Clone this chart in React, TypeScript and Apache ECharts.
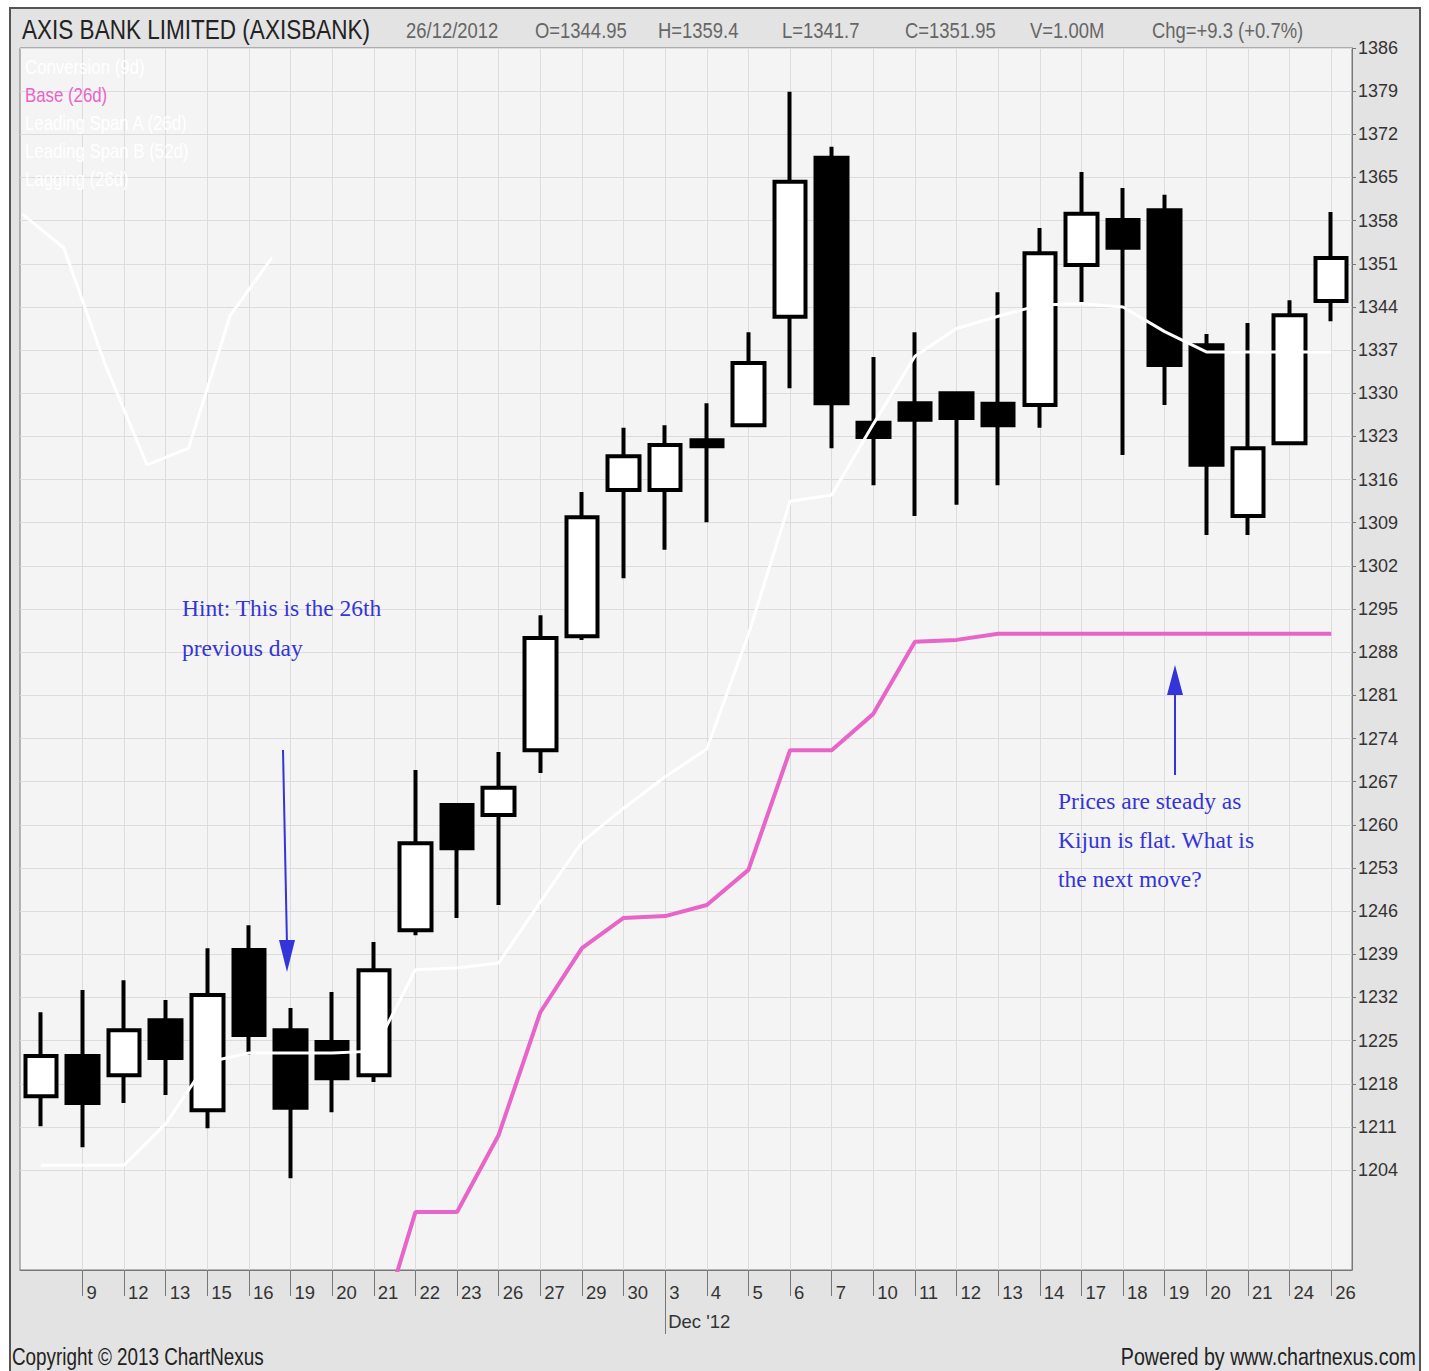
import React, { useEffect, useRef } from 'react';
import * as echarts from 'echarts';

// ---- Data ----
const dates = ['8', '9', '12', '13', '15', '16', '19', '20', '21', '22', '23', '26', '27', '29', '30',
  '3', '4', '5', '6', '7', '10', '11', '12', '13', '14', '17', '18', '19', '20', '21', '24', '26'];

const openPrices = [1216.0, 1222.5, 1219.4, 1228.3, 1213.7, 1239.7, 1226.7, 1224.8, 1219.4, 1242.9,
  1263.2, 1261.6, 1272.1, 1290.6, 1314.3, 1314.3, 1322.4, 1324.8, 1342.4, 1368.2,
  1325.2, 1328.4, 1330.0, 1328.3, 1328.1, 1350.8, 1358.1, 1359.7, 1337.8, 1310.1, 1321.9, 1344.95];
const closePrices = [1222.5, 1214.9, 1226.7, 1222.2, 1232.4, 1225.9, 1214.1, 1218.9, 1236.4, 1257.0,
  1256.2, 1266.0, 1290.3, 1309.9, 1319.8, 1321.6, 1321.4, 1334.9, 1364.3, 1328.4,
  1322.9, 1325.7, 1326.0, 1324.8, 1352.7, 1359.1, 1353.6, 1334.6, 1318.4, 1321.1, 1342.65, 1351.95];
const lowPrices = [1211.1, 1207.7, 1214.9, 1216.2, 1210.8, 1222.7, 1202.7, 1213.4, 1218.3, 1242.1,
  1244.9, 1247.0, 1268.4, 1290.0, 1300.0, 1304.6, 1309.1, 1324.8, 1330.8, 1321.1,
  1315.1, 1310.1, 1311.9, 1315.1, 1324.4, 1344.8, 1320.0, 1328.1, 1307.0, 1307.0, 1321.9, 1341.7];
const highPrices = [1229.6, 1233.2, 1234.8, 1231.6, 1240.0, 1243.7, 1230.3, 1232.9, 1241.0, 1268.9,
  1263.2, 1271.8, 1294.0, 1314.0, 1324.4, 1324.8, 1328.4, 1339.9, 1378.9, 1370.0,
  1335.9, 1339.9, 1330.0, 1346.4, 1356.8, 1365.9, 1363.3, 1362.2, 1339.6, 1341.4, 1345.1, 1359.4];

// Conversion line (white)
const conversionLine = [1204.8, 1204.8, 1204.8, 1211.5, 1221.5, 1223.0, 1223.0, 1223.0, 1223.3, 1236.5,
  1236.8, 1237.6, 1247.5, 1257.2, 1262.7, 1267.8, 1272.3, 1290.9, 1312.5, 1313.5,
  1325.0, 1336.0, 1340.5, 1342.5, 1344.3, 1344.5, 1344.0, 1340.0, 1336.7, 1336.7, 1336.7, 1336.7];

// Base (26d) line (pink)
const baseLine = [null, null, null, null, null, null, null, null, 1175.0, 1197.2,
  1197.2, 1209.7, 1229.6, 1240.0, 1244.9, 1245.2, 1247.0, 1252.7, 1272.1, 1272.1,
  1278.0, 1289.7, 1290.0, 1291.0, 1291.0, 1291.0, 1291.0, 1291.0, 1291.0, 1291.0, 1291.0, 1291.0];

// Lagging span (white, top-left)
const laggingSpan = [1359.1, 1353.6, 1334.6, 1318.4, 1321.1, 1342.65, 1351.95];

const yTickValues = [1204, 1211, 1218, 1225, 1232, 1239, 1246, 1253, 1260, 1267, 1274, 1281, 1288,
  1295, 1302, 1309, 1316, 1323, 1330, 1337, 1344, 1351, 1358, 1365, 1372, 1379, 1386];

const legendItems = ['Conversion (9d)', 'Base (26d)', 'Leading Span A (26d)', 'Leading Span B (52d)', 'Lagging (26d)'];
const headerTitle = 'AXIS BANK LIMITED (AXISBANK)';
const headerDate = '26/12/2012';
const headerVolume = '1.00M';
const monthLabel = "Dec '12";
const monthStartIndex = 15;

// ---- Styles ----
const SANS = "'Liberation Sans', Arial, sans-serif";
const SERIF = "'Liberation Serif', 'Times New Roman', serif";
const NARROW_SCALE = 0.82;
const BLUE = '#3434d8';
const PINK = '#e864c8';
const LAG_SHIFT = -0.45;

export default function App() {
  const ref = useRef<HTMLDivElement>(null);

  useEffect(() => {
    const chart = echarts.init(ref.current as HTMLDivElement, null, { renderer: 'svg' });
    const last = dates.length - 1;
    const chg = closePrices[last] - closePrices[last - 1];
    const pct = (chg / closePrices[last - 1]) * 100;
    const headerItems: [string, number][] = [
      [headerDate, 406],
      [`O=${openPrices[last]}`, 535],
      [`H=${highPrices[last]}`, 658],
      [`L=${lowPrices[last]}`, 782],
      [`C=${closePrices[last]}`, 905],
      [`V=${headerVolume}`, 1030],
      [`Chg=+${chg.toFixed(1)} (+${pct.toFixed(1)}%)`, 1152],
    ];
    const gridIndices = dates.map((_, i) => i).filter((i) => i > 0);

    const narrowText = (text: string, x: number, y: number, fontSize: number, fill: string, align = 'left', z = 10) => ({
      type: 'text', x, y, z, silent: true, scaleX: NARROW_SCALE,
      style: { text, fontSize, fontFamily: SANS, fill, align, verticalAlign: 'middle' },
    });

    const graphic: any[] = [
      {
        type: 'rect', z: -10, silent: true,
        shape: { x: 10, y: 8, width: 1410, height: 1380 },
        style: { fill: '#e3e3e3', stroke: '#555', lineWidth: 2 },
      },
      narrowText(headerTitle, 22, 29, 27.5, '#222'),
      ...headerItems.map(([t, x]) => narrowText(t, x, 30, 22.5, '#666')),
      ...legendItems.map((t, i) => narrowText(t, 25, 67 + i * 28, 20.5, t.startsWith('Base') ? PINK : '#ffffff', 'left', 20)),
      {
        type: 'text', x: 182, y: 608, silent: true, z: 20,
        style: { text: 'Hint: This is the 26th', fontSize: 23.5, fontFamily: SERIF, fill: BLUE, align: 'left', verticalAlign: 'middle' },
      },
      {
        type: 'text', x: 182, y: 648, silent: true, z: 20,
        style: { text: 'previous day', fontSize: 23.5, fontFamily: SERIF, fill: BLUE, align: 'left', verticalAlign: 'middle' },
      },
      ...['Prices are steady as', 'Kijun is flat. What is', 'the next move?'].map((t, i) => ({
        type: 'text', x: 1058, y: 801 + i * 39, silent: true, z: 20,
        style: { text: t, fontSize: 23.5, fontFamily: SERIF, fill: BLUE, align: 'left', verticalAlign: 'middle' },
      })),
      {
        type: 'line', silent: true, z: 20,
        shape: { x1: 283, y1: 750, x2: 287, y2: 945 },
        style: { stroke: BLUE, lineWidth: 2 },
      },
      {
        type: 'polygon', silent: true, z: 20,
        shape: { points: [[279, 940], [295, 940], [287, 972]] },
        style: { fill: BLUE },
      },
      {
        type: 'line', silent: true, z: 20,
        shape: { x1: 1175, y1: 775, x2: 1175, y2: 690 },
        style: { stroke: BLUE, lineWidth: 2 },
      },
      {
        type: 'polygon', silent: true, z: 20,
        shape: { points: [[1167, 695], [1183, 695], [1175, 665]] },
        style: { fill: BLUE },
      },
      narrowText('Copyright © 2013 ChartNexus', 12, 1357, 23, '#222'),
      narrowText('Powered by www.chartnexus.com', 1416, 1357, 24, '#222', 'right'),
    ];

    const option: any = {
      animation: false,
      backgroundColor: '#ffffff',
      grid: {
        left: 20, top: 48, width: 1332, height: 1222,
        show: true, backgroundColor: '#f4f4f4', borderColor: '#777', borderWidth: 1,
      },
      xAxis: [
        {
          type: 'category', data: dates, boundaryGap: true, position: 'bottom',
          axisLine: { show: true, onZero: false, lineStyle: { color: '#777', width: 1 } },
          axisTick: { show: true, alignWithLabel: true, interval: (i: number) => i > 0, length: 26, lineStyle: { color: '#777' } },
          axisLabel: {
            interval: (i: number) => i > 0, align: 'left', padding: [0, 0, 0, 4], margin: 13,
            color: '#333', fontSize: 18.5, fontFamily: SANS,
          },
          splitLine: { show: false },
        },
        {
          type: 'category', data: dates, boundaryGap: true, position: 'bottom',
          axisLine: { show: false, onZero: false },
          axisTick: { show: true, alignWithLabel: true, interval: (i: number) => i === monthStartIndex, length: 64, lineStyle: { color: '#777' } },
          axisLabel: {
            interval: (i: number) => i === monthStartIndex, formatter: () => monthLabel,
            align: 'left', padding: [0, 0, 0, 3], margin: 42,
            color: '#333', fontSize: 18.5, fontFamily: SANS,
          },
          splitLine: { show: false },
        },
        {
          type: 'value', min: -0.5, max: 31.5, position: 'bottom',
          axisLine: { show: false, onZero: false },
          axisTick: { show: false, customValues: gridIndices },
          axisLabel: { show: false, customValues: gridIndices },
          splitLine: { show: true, lineStyle: { color: '#dcdcdc', width: 1 } },
        },
      ],
      yAxis: {
        type: 'value', position: 'right', min: 1187.8, max: 1386,
        axisLine: { show: true, onZero: false, lineStyle: { color: '#777' } },
        axisTick: { show: true, length: 4, customValues: yTickValues, lineStyle: { color: '#777' } },
        axisLabel: {
          customValues: yTickValues, margin: 6, color: '#333', fontSize: 18, fontFamily: SANS,
          formatter: (v: number) => String(v),
        },
        splitLine: { show: true, lineStyle: { color: '#dcdcdc', width: 1 } },
      },
      series: [
        {
          type: 'candlestick', name: 'AXISBANK', xAxisIndex: 0, silent: true, z: 2,
          barWidth: 32,
          data: dates.map((_, i) => [openPrices[i], closePrices[i], lowPrices[i], highPrices[i]]),
          itemStyle: { color: '#ffffff', color0: '#000000', borderColor: '#000000', borderColor0: '#000000', borderWidth: 4 },
        },
        {
          type: 'line', name: 'Conversion (9d)', xAxisIndex: 0, silent: true, z: 3,
          data: conversionLine, symbol: 'none', lineStyle: { color: '#ffffff', width: 3 },
        },
        {
          type: 'line', name: 'Base (26d)', xAxisIndex: 0, silent: true, z: 3,
          data: baseLine, symbol: 'none', lineStyle: { color: PINK, width: 4 },
        },
        {
          type: 'line', name: 'Lagging (26d)', xAxisIndex: 2, silent: true, z: 3,
          data: laggingSpan.map((v, i) => [i + LAG_SHIFT, v]), symbol: 'none', lineStyle: { color: '#ffffff', width: 3 },
        },
      ],
      graphic,
    };

    chart.setOption(option);
    return () => chart.dispose();
  }, []);

  return (
    <div
      ref={ref}
      style={{ position: 'absolute', left: 0, top: 0, width: 1429, height: 1371, background: '#ffffff' }}
    />
  );
}
